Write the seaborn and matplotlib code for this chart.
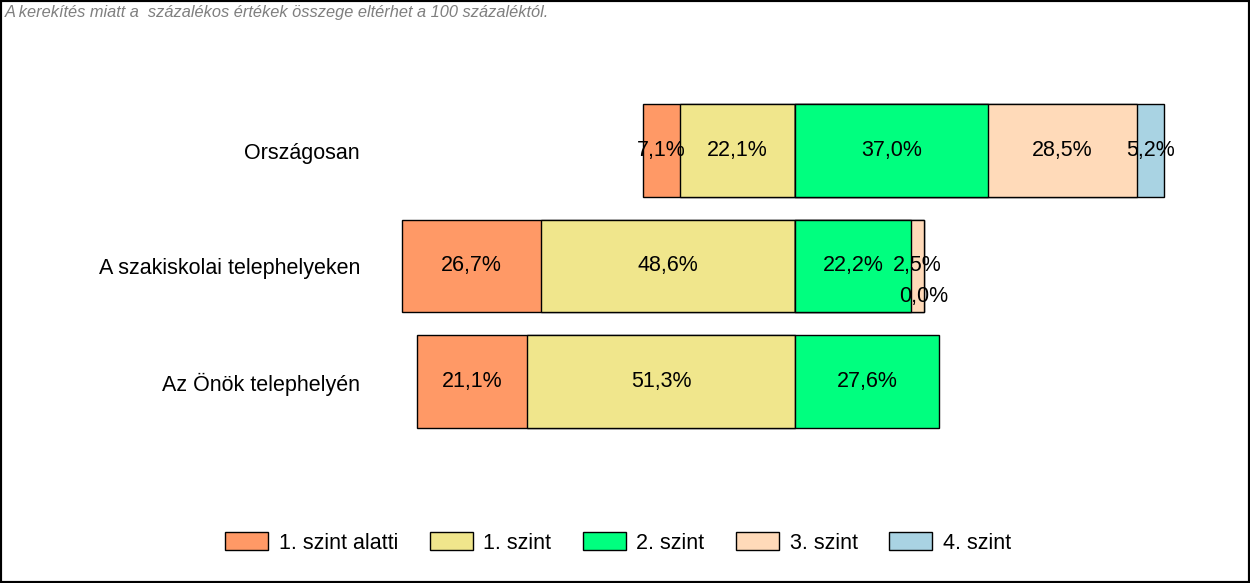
import matplotlib
matplotlib.use("Agg")
import matplotlib.pyplot as plt
from matplotlib.patches import Patch, Rectangle
import seaborn as sns

# data (percent)
categories = ["Országosan", "A szakiskolai telephelyeken", "Az Önök telephelyén"]
levels = ["1. szint alatti", "1. szint", "2. szint", "3. szint", "4. szint"]
below_1 = [7.1, 26.7, 21.1]
level_1 = [22.1, 48.6, 51.3]
level_2 = [37.0, 22.2, 27.6]
level_3 = [28.5, 2.5, None]
level_4 = [5.2, 0.0, None]
colors = ["#FF9966", "#F0E68C", "#00FF7F", "#FFDAB9", "#A9D3E3"]
note = "A kerekítés miatt a  százalékos értékek összege eltérhet a 100 százaléktól."

sns.set_theme(style="white")
plt.rcParams["font.family"] = ["Liberation Sans", "DejaVu Sans"]

fig = plt.figure(figsize=(12.5, 5.83), dpi=100)
ax = fig.add_axes([375 / 1250, 1 - 439.25 / 583, (1240 - 375) / 1250, 346.5 / 583])

series = [below_1, level_1, level_2, level_3, level_4]
vals = [[v if v is not None else 0 for v in s] for s in series]
present = [[v is not None for v in s] for s in series]

# left side: below 2. szint, drawn as overlapping cumulative bars
left_outer = [-(a + b) for a, b in zip(vals[0], vals[1])]
left_inner = [-b for b in vals[1]]
# right side: 2. szint and above
r2 = vals[2]
r3 = [a + b for a, b in zip(r2, vals[3])]
r4 = [a + b for a, b in zip(r3, vals[4])]

layers = [(left_outer, 0), (left_inner, 1), (r4, 4), (r3, 3), (r2, 2)]
for widths, idx in layers:
    mask = present[idx]
    cats = [c for c, m in zip(categories, mask) if m]
    w = [x for x, m in zip(widths, mask) if m]
    sns.barplot(x=w, y=cats, order=categories, orient="h", color=colors[idx],
                saturation=1, edgecolor="black", linewidth=1, width=0.8, ax=ax)

# segment labels
for i, cat in enumerate(categories):
    starts = [-(vals[0][i] + vals[1][i]), -vals[1][i], 0.0]
    starts += [vals[2][i], vals[2][i] + vals[3][i]]
    for j in range(5):
        if not present[j][i]:
            continue
        v = vals[j][i]
        xc = starts[j] + v / 2
        yc = i + (0.26 if v == 0 else 0)
        ax.text(xc, yc, f"{v:.1f}%".replace(".", ","), ha="center", va="center",
                fontsize=15.5, color="black")

ax.set_xlim(-(795 - 375) / 5.22, (1240 - 795) / 5.22)
ax.set_ylim(2.5, -0.5)
ax.set_xticks([])
ax.set_xlabel("")
ax.set_ylabel("")
for s in ax.spines.values():
    s.set_visible(False)
ax.tick_params(axis="y", length=0, pad=10.8, labelsize=15.5, labelcolor="black")

handles = [Patch(facecolor=c, edgecolor="black", linewidth=1, label=l) for c, l in zip(colors, levels)]
fig.legend(handles=handles, loc="center", bbox_to_anchor=(0.4944, 1 - 543 / 583), ncol=5,
           frameon=False, fontsize=15.5, handlelength=2.0, handleheight=0.9,
           handletextpad=0.5, columnspacing=1.45, labelcolor="black")

fig.text(5 / 1250, 1 - 13 / 583, note, ha="left", va="center", fontsize=11.8,
         style="italic", color="#7F7F7F")

fig.patches.append(Rectangle((0, 0), 1, 1, transform=fig.transFigure, fill=False,
                             edgecolor="black", linewidth=3))

fig.savefig("out.png", dpi=100)
